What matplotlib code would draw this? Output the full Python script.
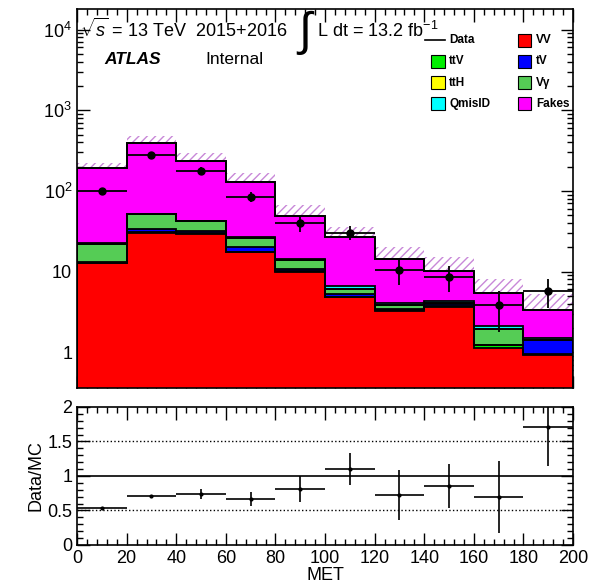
import matplotlib
matplotlib.use("Agg")
import matplotlib.pyplot as plt
from matplotlib.patches import Rectangle
from matplotlib.ticker import MultipleLocator, LogLocator, FuncFormatter, NullFormatter
import numpy as np

# binning (MET)
edges = np.arange(0, 201, 20)

# background stack, bottom to top
vv = [12.6, 30.3, 29.5, 17.3, 10.0, 4.8, 3.26, 3.6, 1.14, 0.92]
ttv = [0.2, 0.4, 0.4, 0.4, 0.2, 0.1, 0.05, 0.1, 0.08, 0.04]
tv = [0.4, 2.7, 1.9, 2.3, 0.5, 0.3, 0.1, 0.3, 0.02, 0.45]
vgam = [8.8, 18.4, 10.2, 6.0, 3.2, 0.9, 0.46, 0.05, 0.7, 0.0]
tth = [0.05, 0.1, 0.1, 0.1, 0.05, 0.05, 0.02, 0.02, 0.01, 0.0]
qmisid = [0.3, 0.5, 0.5, 0.4, 0.3, 0.5, 0.2, 0.2, 0.15, 0.1]
fakes = [168, 345, 191, 102, 35, 20, 10.3, 5.9, 3.26, 1.8]

# relative uncertainty on total background
syst = [0.18, 0.20, 0.25, 0.29, 0.37, 0.32, 0.41, 0.47, 0.49, 0.60]

# data
data = [101, 282, 179, 85, 40, 30.3, 10.4, 8.6, 3.8, 5.8]
data_err = [1, 5, 17, 13, 9, 6, 3.5, 3, 2, 2.3]

# ratio panel
ratio = [0.53, 0.71, 0.74, 0.67, 0.81, 1.10, 0.72, 0.86, 0.69, 1.71]
ratio_err = [0.01, 0.02, 0.075, 0.10, 0.19, 0.23, 0.36, 0.32, 0.52, 0.57]

samples = [
    ("VV", vv, "#ff0000"),
    ("ttV", ttv, "#00ee00"),
    ("tV", tv, "#0000ff"),
    ("Vγ", vgam, "#55cc55"),
    ("ttH", tth, "#ffff00"),
    ("QmisID", qmisid, "#00ffff"),
    ("Fakes", fakes, "#ff00ff"),
]

plt.rcParams['font.family'] = ['Liberation Sans', 'DejaVu Sans']
plt.rcParams['mathtext.fontset'] = 'custom'
plt.rcParams['mathtext.rm'] = 'Liberation Sans'
plt.rcParams['mathtext.it'] = 'Liberation Sans:italic'
plt.rcParams['mathtext.bf'] = 'Liberation Sans:bold'
plt.rcParams['hatch.linewidth'] = 1.0

fig = plt.figure(figsize=(6.02, 5.85), dpi=100)
ax = fig.add_axes([0.128, 0.3368, 0.824, 0.6478])
rax = fig.add_axes([0.128, 0.0684, 0.824, 0.2359])

centers = 0.5 * (edges[:-1] + edges[1:])
width = edges[1:] - edges[:-1]

# uncertainty band (drawn under the stack, so only the upper part shows)
total = np.zeros(len(centers))
for name, vals, col in samples:
    total += np.array(vals)
band_lo = total * (1 - np.array(syst))
band_hi = total * (1 + np.array(syst))
ax.bar(centers, band_hi - band_lo, width=width, bottom=band_lo,
       facecolor='none', edgecolor='#c888d8', hatch='////', linewidth=0, zorder=1)

# stack: filled steps, then black outlines on top
bottom = np.full(len(centers), 1e-3)
for name, vals, col in samples:
    top = bottom + np.array(vals)
    ax.stairs(top, edges, baseline=bottom, fill=True, color=col, zorder=2)
    bottom = top
bottom = np.full(len(centers), 1e-3)
for name, vals, col in samples:
    top = bottom + np.array(vals)
    ax.stairs(top, edges, baseline=None, color='black', linewidth=1.3, zorder=3)
    bottom = top
ax.stairs(bottom, edges, baseline=1e-3, color='black', linewidth=1.3, zorder=3)

# data
ax.errorbar(centers, data, yerr=data_err, xerr=width / 2, fmt='o', color='black',
            markersize=5, elinewidth=1.3, capsize=0, zorder=5)

ax.set_yscale('log')
ax.set_xlim(0, 200)
ax.set_ylim(0.36, 1.8e4)


def log_fmt(v, pos):
    if v == 1:
        return '1'
    if v == 10:
        return '10'
    e = int(round(np.log10(v)))
    return '10$^{%d}$' % e


ax.yaxis.set_major_locator(LogLocator(base=10, numticks=10))
ax.yaxis.set_major_formatter(FuncFormatter(log_fmt))
ax.yaxis.set_minor_locator(LogLocator(base=10, subs=np.arange(2, 10), numticks=20))
ax.yaxis.set_minor_formatter(NullFormatter())
ax.xaxis.set_major_locator(MultipleLocator(20))
ax.xaxis.set_minor_locator(MultipleLocator(4))
ax.set_xticklabels([])

for a in (ax, rax):
    a.tick_params(which='both', direction='in', top=True, right=True, labelsize=13)
    a.tick_params(which='major', length=9, width=1)
    a.tick_params(which='minor', length=4.5, width=1)
    for s in a.spines.values():
        s.set_linewidth(1.2)
        s.set_zorder(6)

# labels on top
ax.text(0.005, 0.925, r'$\sqrt{s}$ = 13 TeV  2015+2016', transform=ax.transAxes,
        fontsize=13, va='baseline')
ax.text(0.442, 0.905, r'$\int$', transform=ax.transAxes, fontsize=34, va='baseline')
ax.text(0.483, 0.925, 'L dt = 13.2 fb$^{-1}$', transform=ax.transAxes,
        fontsize=13, va='baseline')
ax.text(0.055, 0.855, 'ATLAS', transform=ax.transAxes, fontsize=12.5,
        fontweight='bold', fontstyle='italic', va='baseline')
ax.text(0.258, 0.855, 'Internal', transform=ax.transAxes, fontsize=12.5, va='baseline')

# legend, two columns
leg_col1 = [("Data", None), ("ttV", "#00ee00"), ("ttH", "#ffff00"), ("QmisID", "#00ffff")]
leg_col2 = [("VV", "#ff0000"), ("tV", "#0000ff"), ("Vγ", "#55cc55"), ("Fakes", "#ff00ff")]
row_y = [0.918, 0.862, 0.806, 0.750]
for col_x, entries in ((0.714, leg_col1), (0.889, leg_col2)):
    for (lab, c), yy in zip(entries, row_y):
        if c is None:
            ax.plot([col_x - 0.012, col_x + 0.027], [yy, yy], color='black', lw=1.2,
                    transform=ax.transAxes, clip_on=False)
        else:
            ax.add_patch(Rectangle((col_x, yy - 0.017), 0.027, 0.034, facecolor=c,
                                   edgecolor='black', linewidth=0.8, transform=ax.transAxes))
        ax.text(col_x + 0.036, yy, lab, transform=ax.transAxes, fontsize=8.5,
                fontweight='bold', va='center')

# ratio panel
rax.axhline(1.0, color='black', lw=1.2)
rax.axhline(0.5, color='black', lw=1.0, ls=':')
rax.axhline(1.5, color='black', lw=1.0, ls=':')
rax.errorbar(centers, ratio, yerr=ratio_err, xerr=width / 2, fmt='o', color='black',
             markersize=2, elinewidth=1.2, capsize=0)
rax.set_xlim(0, 200)
rax.set_ylim(0, 2)
rax.xaxis.set_major_locator(MultipleLocator(20))
rax.xaxis.set_minor_locator(MultipleLocator(4))
rax.yaxis.set_major_locator(MultipleLocator(0.5))
rax.yaxis.set_minor_locator(MultipleLocator(0.1))
rax.yaxis.set_major_formatter(FuncFormatter(lambda v, p: ('%g' % v)))
rax.set_xlabel('MET', fontsize=13, labelpad=0)
rax.set_ylabel('Data/MC', fontsize=13, labelpad=2)

fig.savefig('out.png', dpi=100)
